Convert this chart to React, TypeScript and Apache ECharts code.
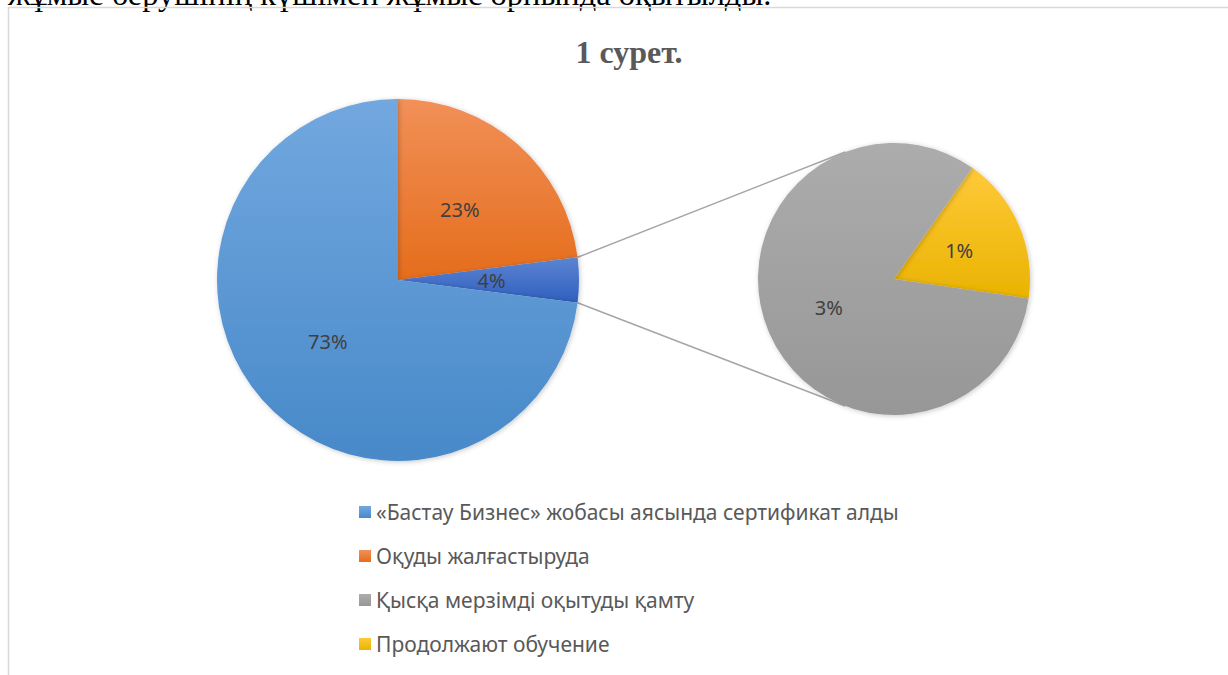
import React, { useEffect, useRef } from "react";
import * as echarts from "echarts";

const titleText = "1 сурет.";
const topText = "жұмыс берушінің күшімен жұмыс орнында оқытылды.";
const legendNames = [
  "«Бастау Бизнес» жобасы аясында сертификат алды",
  "Оқуды жалғастыруда",
  "Қысқа мерзімді оқытуды қамту",
  "Продолжают обучение",
];
// main pie (clockwise from 12 o'clock): orange, "other", blue
const mainNames = ["Оқуды жалғастыруда", "other", "«Бастау Бизнес» жобасы аясында сертификат алды"];
const mainValues = [23.0, 4.0, 73.0];
// secondary pie: yellow, grey
const subNames = ["Продолжают обучение", "Қысқа мерзімді оқытуды қамту"];
const subValues = [0.7, 3.3];

const grad = (top: string, bottom: string) =>
  new echarts.graphic.LinearGradient(0, 0, 0, 1, [
    { offset: 0, color: top },
    { offset: 1, color: bottom },
  ]);

const colors: Record<string, any> = {
  "«Бастау Бизнес» жобасы аясында сертификат алды": grad("#72a8df", "#4889c9"),
  "Оқуды жалғастыруда": grad("#f19058", "#e56d1c"),
  other: grad("#5c84d2", "#2f5fbe"),
  "Қысқа мерзімді оқытуды қамту": grad("#acacac", "#979797"),
  "Продолжают обучение": grad("#ffc93a", "#eab300"),
};

export default function App() {
  const ref = useRef<HTMLDivElement>(null);
  useEffect(() => {
    if (!ref.current) return;
    const chart = echarts.init(ref.current, null, { renderer: "svg" });
    const c1 = [398, 280];
    const r1 = 181;
    const c2 = [894, 279];
    const r2 = 136;
    const start1 = 90;
    const total1 = mainValues.reduce((a, b) => a + b, 0);
    const otherStart = start1 - (mainValues[0] / total1) * 360;
    const otherEnd = otherStart - (mainValues[1] / total1) * 360;
    const start2 = 54.8;
    const pt = (c: number[], r: number, deg: number) => [
      c[0] + r * Math.cos((deg * Math.PI) / 180),
      c[1] - r * Math.sin((deg * Math.PI) / 180),
    ];
    const p1a = pt(c1, r1, otherStart);
    const p1b = pt(c1, r1, otherEnd);
    const p2a = pt(c2, r2, 111);
    const p2b = pt(c2, r2, -111);
    const labelFmt = (p: any) => Math.round(p.value) + "%";
    const label = {
      show: true,
      position: "inside",
      formatter: labelFmt,
      fontFamily: "Noto Sans",
      fontSize: 20,
      color: "#404040",
    };
    const shadow = {
      shadowBlur: 5,
      shadowColor: "rgba(0,0,0,0.22)",
      shadowOffsetX: 1,
      shadowOffsetY: 1,
    };
    chart.setOption({
      animation: false,
      backgroundColor: "#ffffff",
      legend: {
        orient: "vertical",
        left: 354,
        top: 494,
        data: legendNames,
        icon: "rect",
        itemWidth: 12,
        itemHeight: 12,
        itemGap: 18,
        selectedMode: false,
        textStyle: {
          fontFamily: "Noto Sans",
          fontSize: 21,
          color: "#595959",
          lineHeight: 26,
        },
      },
      graphic: [
        {
          type: "text",
          left: 8,
          top: -23,
          style: {
            text: topText,
            font: "32.5px 'Liberation Serif'",
            fill: "#000000",
          },
          z: 0,
        },
        {
          type: "rect",
          shape: { x: 8.5, y: 7.5, width: 1300, height: 800 },
          style: { fill: "none", stroke: "#d9d9d9", lineWidth: 1.5 },
          silent: true,
        },
        {
          type: "text",
          x: 629,
          y: 52,
          style: {
            text: titleText,
            font: "bold 32px 'Liberation Serif'",
            fill: "#595959",
            align: "center",
            verticalAlign: "middle",
          },
        },
        {
          type: "line",
          shape: { x1: p1a[0], y1: p1a[1], x2: p2a[0], y2: p2a[1] },
          style: { stroke: "#a6a6a6", lineWidth: 1.5 },
          z: -1,
        },
        {
          type: "line",
          shape: { x1: p1b[0], y1: p1b[1], x2: p2b[0], y2: p2b[1] },
          style: { stroke: "#a6a6a6", lineWidth: 1.5 },
          z: -1,
        },
      ],
      series: [
        {
          type: "pie",
          center: c1,
          radius: r1,
          startAngle: start1,
          clockwise: true,
          label,
          labelLine: { show: false },
          emphasis: { disabled: true },
          data: mainNames.map((n, i) => ({
            name: n,
            value: mainValues[i],
            itemStyle: { color: colors[n], borderWidth: 0, ...shadow },
          })),
        },
        {
          type: "pie",
          center: c2,
          radius: r2,
          startAngle: start2,
          clockwise: true,
          label,
          labelLine: { show: false },
          emphasis: { disabled: true },
          data: subNames.map((n, i) => ({
            name: n,
            value: subValues[i],
            itemStyle: { color: colors[n], borderWidth: 0, ...shadow },
          })),
        },
      ],
    });
    return () => chart.dispose();
  }, []);
  return (
    <div
      ref={ref}
      style={{ position: "fixed", left: 0, top: 0, width: 1228, height: 675, background: "#fff" }}
    />
  );
}
